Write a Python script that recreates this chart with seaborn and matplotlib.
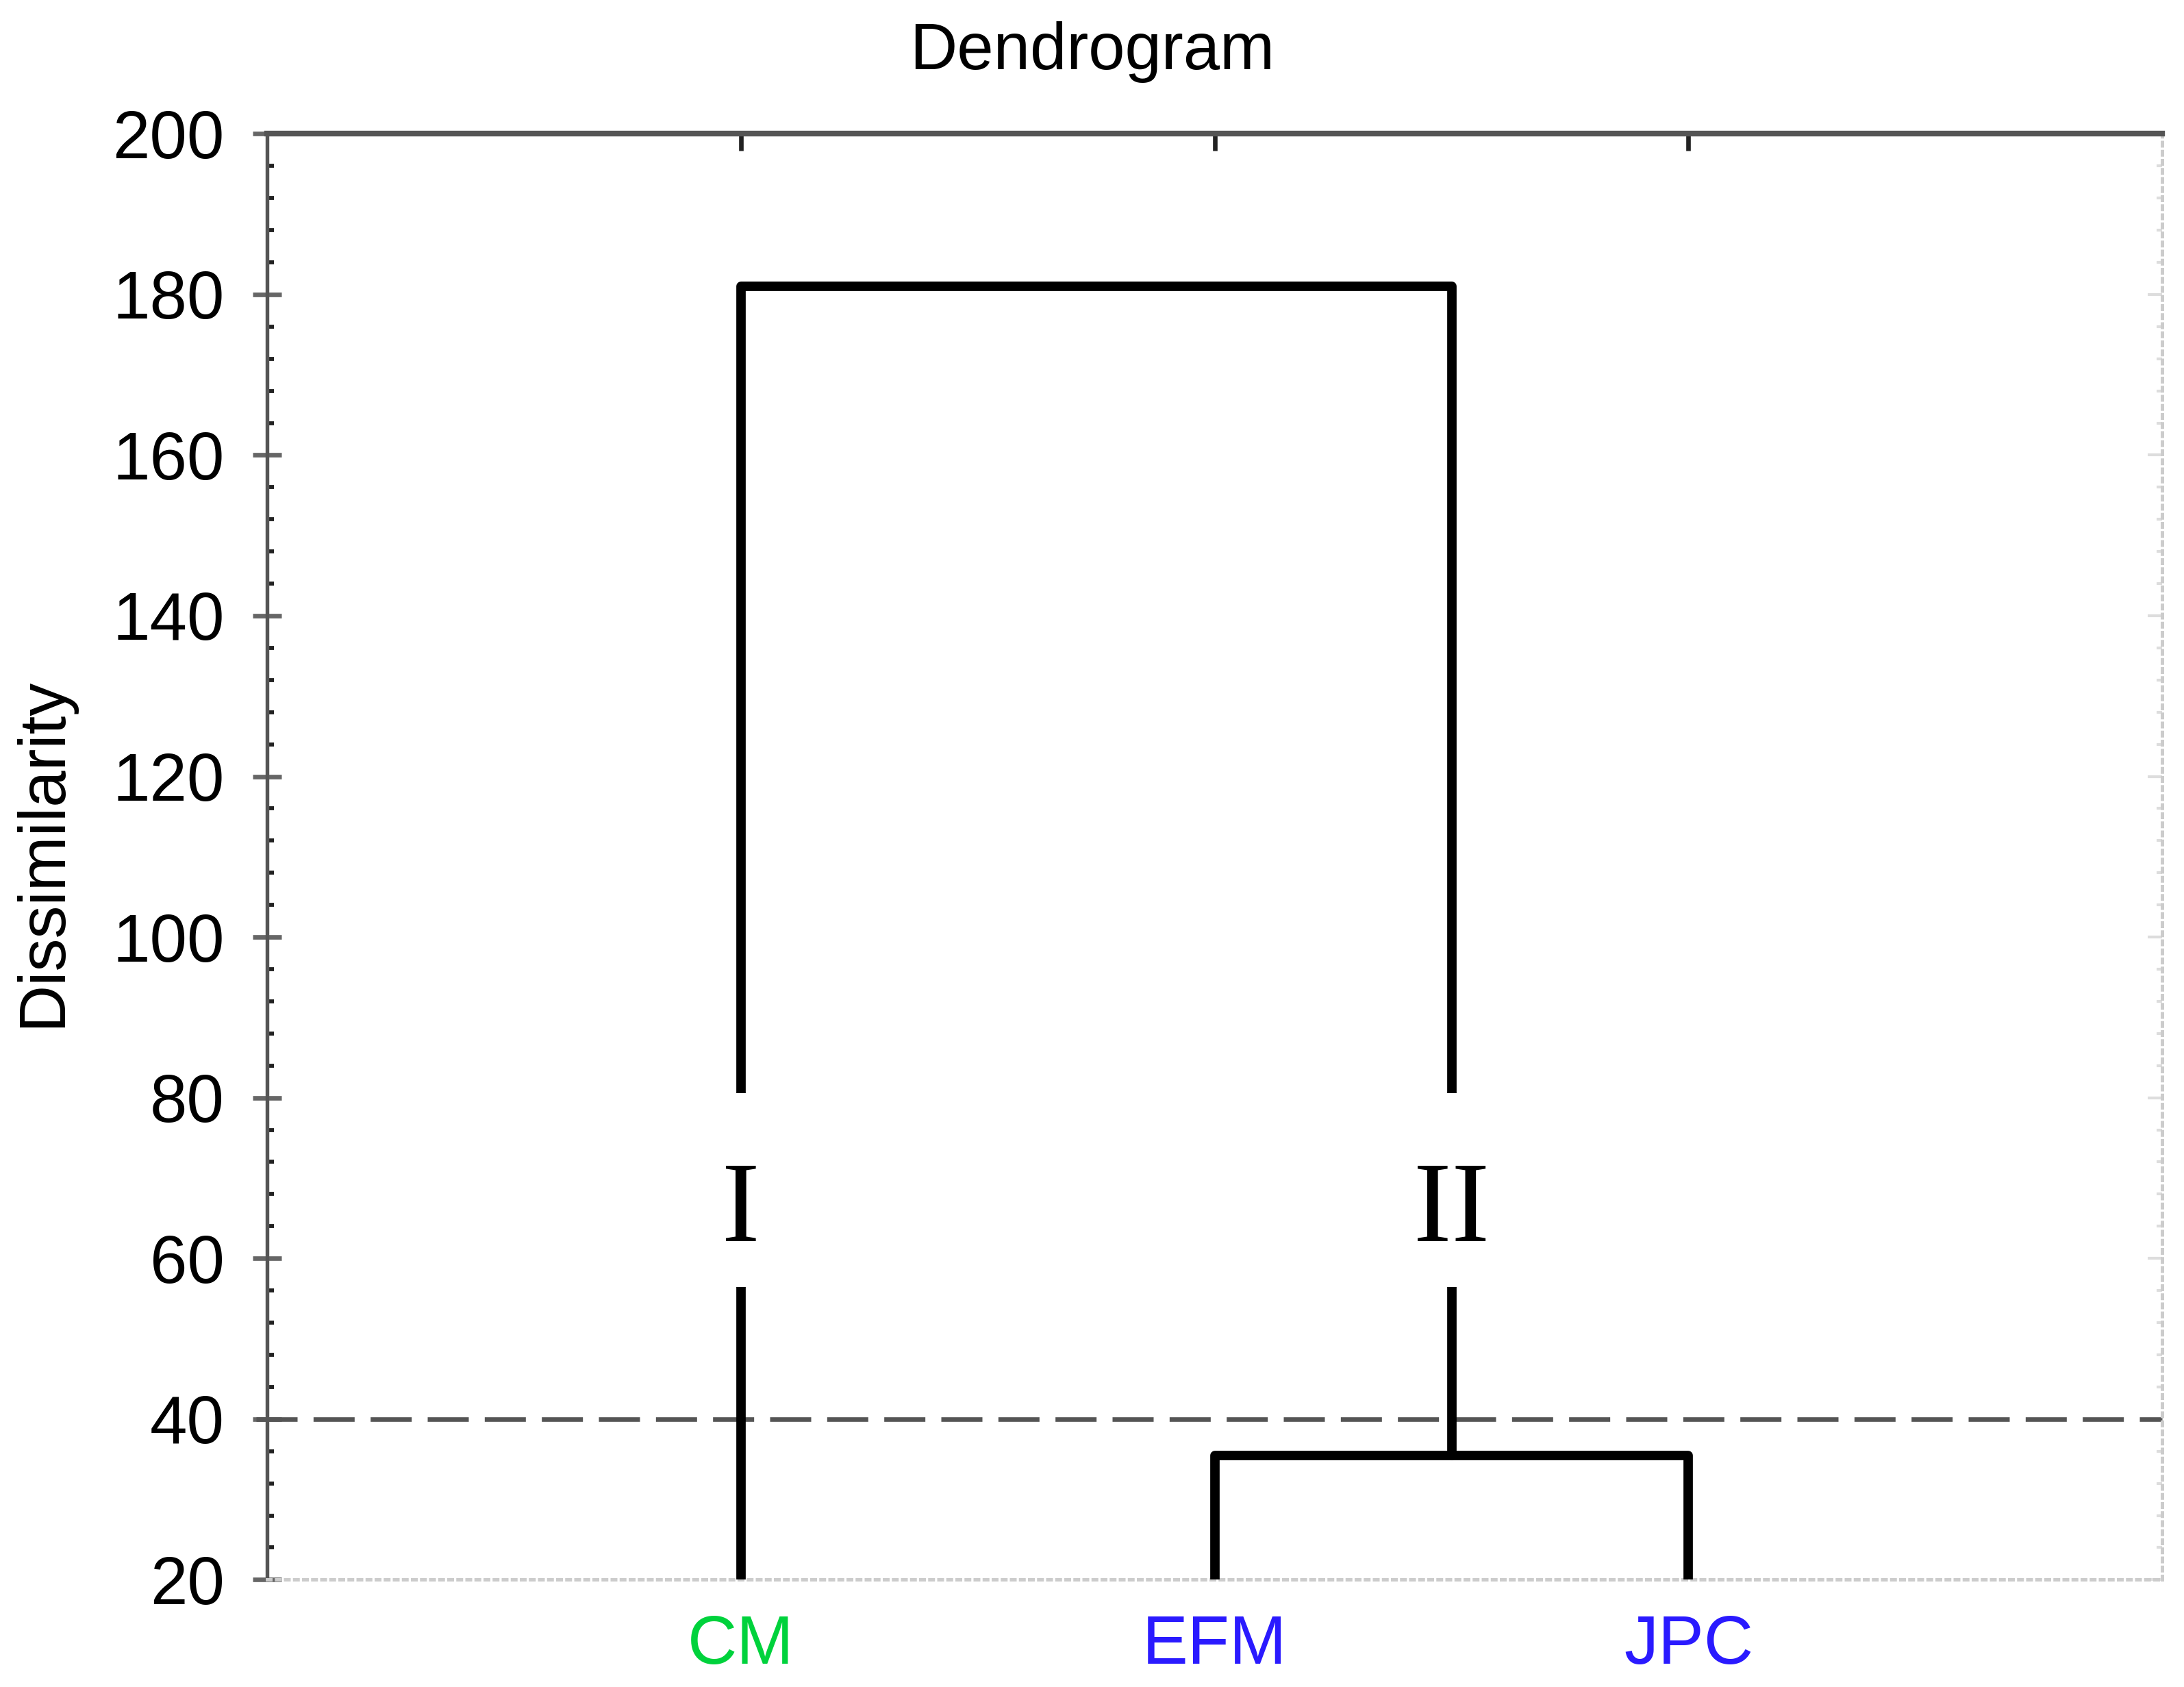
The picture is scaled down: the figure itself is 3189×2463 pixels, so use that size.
import matplotlib
matplotlib.use("Agg")
import matplotlib.pyplot as plt
import pandas as pd
import seaborn as sns
from matplotlib.patches import Rectangle
from matplotlib.ticker import MultipleLocator

# leaves of the tree, left to right
leaves = ["CM", "EFM", "JPC"]
leaf_colors = ["#00d23c", "#2a1aff", "#2a1aff"]

# merges: (left node, right node, height); nodes 0..2 are leaves, 3.. are merges
merge_left = [1, 0]
merge_right = [2, 3]
merge_height = [35.5, 181.0]

cut_height = 40
cluster_names = ["I", "II"]
cluster_nodes = [0, 3]
cluster_label_y = 65.6
# the vertical links are broken between these heights around the cluster names
gap_low, gap_high = 56.4, 80.6

y_ticks = [20, 40, 60, 80, 100, 120, 140, 160, 180, 200]


def build_links():
    """Turn the merge table into U-shaped link paths."""
    node_x = [i + 1 for i in range(len(leaves))]
    node_h = [0.0] * len(leaves)
    rows = []
    for k, (a, b, h) in enumerate(zip(merge_left, merge_right, merge_height)):
        xs = [node_x[a], node_x[a], node_x[b], node_x[b]]
        ys = [node_h[a], h, h, node_h[b]]
        for order, (x, y) in enumerate(zip(xs, ys)):
            rows.append({"link": k, "order": order, "x": x, "y": y})
        node_x.append((node_x[a] + node_x[b]) / 2)
        node_h.append(h)
    return pd.DataFrame(rows), node_x


sns.set_theme(style="white")
plt.rcParams["font.family"] = ["Liberation Sans", "DejaVu Sans"]
plt.rcParams["text.color"] = "black"
plt.rcParams["axes.labelcolor"] = "black"
plt.rcParams["xtick.labelcolor"] = "black"
plt.rcParams["ytick.labelcolor"] = "black"

fig = plt.figure(figsize=(3189 / 300, 2463 / 300), dpi=300)
ax = fig.add_axes([0.1224, 0.0636, 0.8676, 0.8571])

links, node_x = build_links()
sns.lineplot(data=links, x="x", y="y", units="link", estimator=None, sort=False,
             color="black", linewidth=3.3, ax=ax, zorder=3)

ax.axhline(cut_height, xmin=-0.006, color="#555555", linewidth=1.6, dashes=(9, 3.5),
           zorder=2, clip_on=False)

# cluster names on white patches that break the vertical lines
for name, node in zip(cluster_names, cluster_nodes):
    ax.add_patch(Rectangle((node_x[node] - 0.08, gap_low), 0.16, gap_high - gap_low,
                           facecolor="white", edgecolor="none", zorder=4))
    ax.text(node_x[node], cluster_label_y, name, ha="center", va="center", color="black",
            fontsize=40, family=["Liberation Serif", "DejaVu Serif"], zorder=5)

ax.set_xlim(0, len(leaves) + 1)
ax.set_ylim(y_ticks[0], y_ticks[-1])
ax.set_yticks(y_ticks)
ax.yaxis.set_minor_locator(MultipleLocator(4))
ax.set_xticks(range(1, len(leaves) + 1), leaves)
for lab, col in zip(ax.get_xticklabels(), leaf_colors):
    lab.set_color(col)

ax.set_xlabel("")
ax.set_ylabel("Dissimilarity", fontsize=23)
ax.yaxis.set_label_coords(-0.102, 0.503)

ax.tick_params(axis="y", which="major", direction="inout", length=10, width=1.6,
               color="#666666", labelsize=23.5, pad=10, left=True)
ax.tick_params(axis="y", which="minor", direction="in", length=2.5, width=1.4,
               color="#222222", left=True)
ax.tick_params(axis="x", which="major", direction="in", length=5, width=1.0,
               color="#cccccc", labelsize=24, pad=12, bottom=True)

for side in ["left", "top"]:
    ax.spines[side].set_color("#555555")
ax.spines["left"].set_linewidth(1.3)
ax.spines["top"].set_linewidth(2.0)
for side in ["bottom", "right"]:
    ax.spines[side].set_color("#cccccc")
    ax.spines[side].set_linestyle(":")
    ax.spines[side].set_linewidth(1.2)

# ticks on the top edge at each leaf
top = ax.secondary_xaxis("top")
top.set_xticks(range(1, len(leaves) + 1))
top.set_xticklabels([])
top.tick_params(direction="in", length=6, width=1.6, color="#222222")
for sp in top.spines.values():
    sp.set_visible(False)

# faint ticks on the right edge
right = ax.secondary_yaxis("right")
right.set_yticks(y_ticks)
right.set_yticklabels([])
right.yaxis.set_minor_locator(MultipleLocator(4))
right.tick_params(which="major", direction="in", length=5, width=1.0, color="#dddddd")
right.tick_params(which="minor", direction="in", length=2, width=1.0, color="#dddddd")
for sp in right.spines.values():
    sp.set_visible(False)

fig.text(0.5, 0.9690, "Dendrogram", ha="center", va="center", fontsize=23)

fig.savefig("out.png", dpi=300, facecolor="white")
plt.close(fig)
